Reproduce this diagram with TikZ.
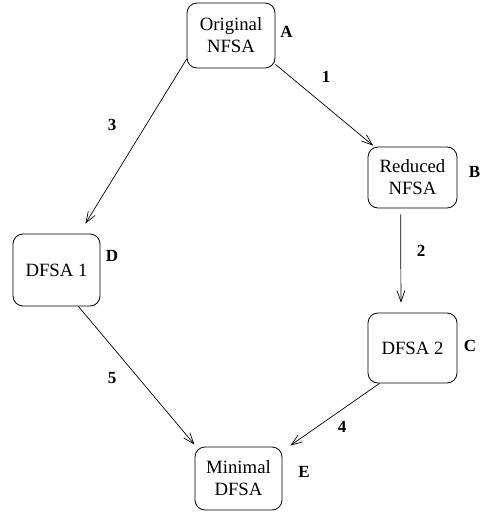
\documentclass[tikz,border=0pt]{standalone}
\usepackage{fontspec}
\setmainfont{Liberation Serif}
\usetikzlibrary{arrows.meta}
\tikzset{
  statebox/.style={draw, line width=0.8pt, rounded corners=10pt, align=center,
    inner sep=0pt, font=\fontsize{18.75}{22}\selectfont},
  tag/.style={font=\fontsize{17}{20}\selectfont\bfseries, inner sep=0pt},
  arr/.style={line width=0.7pt, -{Straight Barb[length=11pt,width=8pt,line width=0.7pt]}}
}
\begin{document}
\begin{tikzpicture}[x=1pt,y=-1pt]
\useasboundingbox (0,0) rectangle (481,512);
\node[statebox, minimum width=88pt, minimum height=65pt] (A) at (231,35.5) {Original\\NFSA};
\node[statebox, minimum width=89pt, minimum height=61pt] (B) at (412.5,177.5) {Reduced\\NFSA};
\node[statebox, minimum width=89pt, minimum height=70pt] (C) at (412.5,348) {DFSA 2};
\node[statebox, minimum width=87pt, minimum height=72pt] (D) at (56.5,270) {DFSA 1};
\node[statebox, minimum width=87pt, minimum height=63pt] (E) at (238.5,478.5) {Minimal\\DFSA};

\node[tag] (lA) at (286.5,31.5) {A};
\node[tag] (lB) at (474.5,172) {B};
\node[tag] (lC) at (470,346) {C};
\node[tag] (lD) at (112,256) {D};
\node[tag] (lE) at (304,472) {E};

\node[tag] (n1) at (326,77) {1};
\node[tag] (n2) at (421,251) {2};
\node[tag] (n3) at (112,125) {3};
\node[tag] (n4) at (342,427) {4};
\node[tag] (n5) at (112,378) {5};

\draw[arr, shorten >=1.5pt] (A.-33) -- (B.141.5);
\draw[arr, shorten <=6pt, shorten >=10pt] (B.249.3) -- (C.108.2);
\draw[arr, shorten >=11.7pt] (A.208) -- (D.58);
\draw[arr, shorten >=2.6pt] (D.-59.2) -- (E.143);
\draw[arr, shorten >=9.7pt] (C.227) -- (E.32.8);
\end{tikzpicture}
\end{document}
